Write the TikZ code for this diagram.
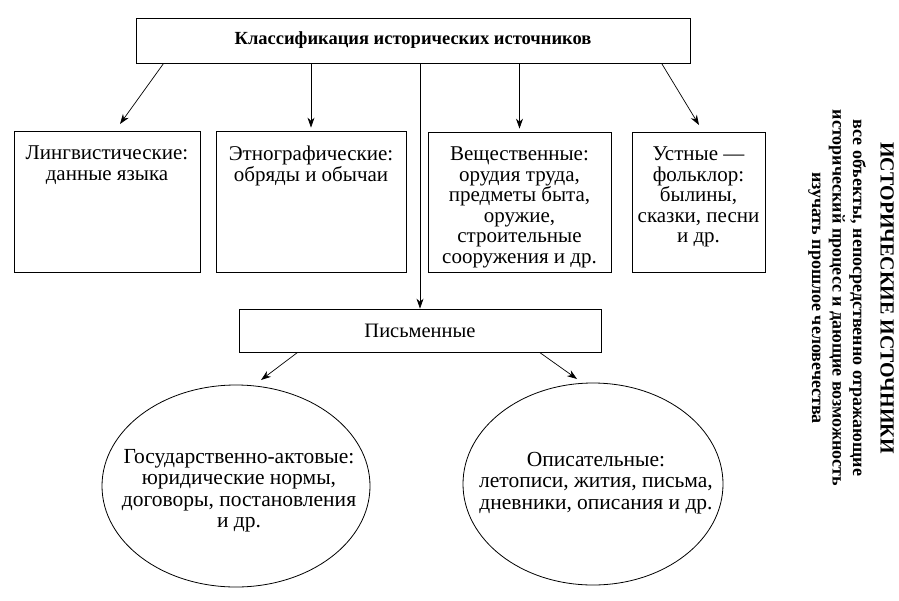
\documentclass[tikz,border=0pt]{standalone}
\usepackage{fontspec}
\setmainfont{Liberation Serif}
\usetikzlibrary{arrows.meta,calc}
\begin{document}
\begin{tikzpicture}[x=1pt,y=-1pt,
  box/.style={draw, line width=0.8pt, inner sep=0pt},
  oval/.style={draw, line width=0.8pt},
  txt/.style={align=center, inner sep=0pt, anchor=north, font=\fontsize{21}{20.5}\selectfont},
  etxt/.style={align=center, inner sep=0pt, anchor=north, font=\fontsize{21.5}{21.5}\selectfont},
  arr/.style={-{Stealth[length=10pt,width=7pt]}, line width=0.7pt}]
\useasboundingbox (0,0) rectangle (899,600);
% top box
\node[box, minimum width=554pt, minimum height=45pt, font=\fontsize{18.5}{22}\selectfont\bfseries] (top) at (413,40.5) {Классификация исторических источников};
% four boxes
\node[box, minimum width=186pt, minimum height=141pt] (b1) at (107,201.5) {};
\node[box, minimum width=190pt, minimum height=141pt] (b2) at (311,201.5) {};
\node[box, minimum width=183pt, minimum height=140pt] (b3) at (519.5,202) {};
\node[box, minimum width=133pt, minimum height=140pt] (b4) at (698.5,202) {};
\node[txt] (t1) at (b1.north |- 0,146) {Лингвистические:\\данные языка};
\node[txt] (t2) at (b2.north |- 0,146) {Этнографические:\\обряды и обычаи};
\node[txt] (t3) at (b3.north |- 0,147) {Вещественные:\\орудия труда,\\предметы быта,\\оружие,\\строительные\\сооружения и др.};
\node[txt] (t4) at (b4.north |- 0,147) {Устные —\\фольклор:\\былины,\\сказки, песни\\и др.};
% written box
\node[box, minimum width=362pt, minimum height=43pt, font=\fontsize{20.5}{22}\selectfont] (w) at (420,330.5) {Письменные};
% ellipses
\draw[oval] (236,486) ellipse [x radius=134, y radius=101];
\draw[oval] (593,484) ellipse [x radius=130, y radius=101];
\node[etxt] (t5) at (239,449) {Государственно-актовые:\\юридические нормы,\\договоры, постановления\\и др.};
\node[etxt] (t6) at (596,452) {Описательные:\\летописи, жития, письма,\\дневники, описания и др.};
% arrows
\coordinate (a1) at (120,124);
\coordinate (a4) at (699,125);
\coordinate (a5) at (261,380);
\coordinate (a6) at (577,379);
\draw[arr] ($(top.south west)+(28,0)$) -- (a1);
\draw[arr] (top.south -| b2.north) -- ([yshift=3pt]b2.north);
\draw[arr] (top.south -| b3.north) -- ([yshift=3pt]b3.north);
\draw[arr] ($(top.south west)+(526,0)$) -- (a4);
\draw[arr] (top.south -| w.north) -- (w.north);
\draw[arr] ($(w.south west)+(59,0)$) -- (a5);
\draw[arr] ($(w.south west)+(301,0)$) -- (a6);
% vertical caption
\node[rotate=-90, align=center, inner sep=0pt, font=\fontsize{18}{20.5}\selectfont\bfseries] (cap) at (851,298)
 {{\fontsize{20}{20}\selectfont ИСТОРИЧЕСКИЕ ИСТОЧНИКИ}\\[7pt]
  все объекты, непосредственно отражающие\\
  исторический процесс и дающие возможность\\
  изучать прошлое человечества};
\end{tikzpicture}
\end{document}
